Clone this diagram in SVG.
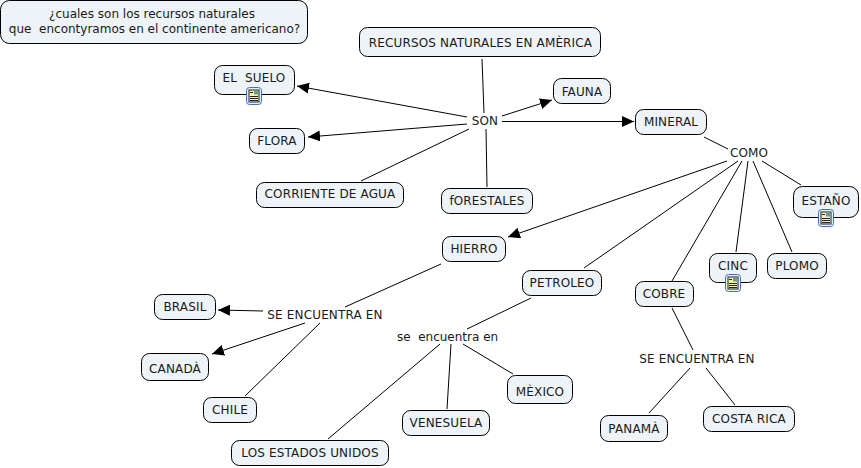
<svg xmlns="http://www.w3.org/2000/svg" width="861" height="468" viewBox="0 0 861 468">
<style>
text{font-family:"DejaVu Sans",Verdana,sans-serif;font-size:12px;fill:#1a1a1a;text-anchor:middle;letter-spacing:.15px}
text.l{letter-spacing:0}
.n{fill:#edf3f6;stroke:#000;stroke-width:1}
.c line{stroke:#000;stroke-width:1;fill:none}
.a{marker-end:url(#ah)}
</style>
<defs>
<marker id="ah" markerUnits="userSpaceOnUse" markerWidth="13" markerHeight="12" refX="12" refY="5.500" orient="auto"><path d="M0 0L12 5.500L0 11Z" fill="#000"/></marker>
<g id="doc"><rect x=".5" y=".5" width="15" height="17" rx="3" fill="#e4eefa" stroke="#3f74bd"/><rect x="3" y="3" width="10" height="12" fill="#f7f2b8" stroke="#222" stroke-width="1"/><rect x="8" y="3.500" width="4.500" height="4" fill="#6a9a8a"/><path d="M4 9.500h8M4 11.500h8M4 13.500h8M4 5.500h3" stroke="#222" stroke-width="1"/></g>
</defs>
<g class="c" id="connectors">
<line x1="482" y1="59" x2="484" y2="113"/>
<line class="a" x1="467" y1="117" x2="297" y2="86"/>
<line class="a" x1="467" y1="124" x2="308" y2="137"/>
<line x1="469" y1="129" x2="361" y2="181"/>
<line x1="486" y1="129" x2="487" y2="187"/>
<line class="a" x1="502" y1="116" x2="552" y2="100"/>
<line class="a" x1="502" y1="121.500" x2="634" y2="121.500"/>
<line x1="704" y1="137" x2="728" y2="149"/>
<line class="a" x1="727" y1="161" x2="508" y2="237"/>
<line x1="738" y1="161" x2="584" y2="268"/>
<line x1="742" y1="161" x2="672" y2="281"/>
<line x1="748" y1="161" x2="736" y2="252"/>
<line x1="753" y1="161" x2="792" y2="252"/>
<line x1="762" y1="161" x2="801" y2="185"/>
<line x1="441" y1="264" x2="345" y2="307"/>
<line class="a" x1="263" y1="311" x2="218" y2="310"/>
<line class="a" x1="305" y1="323" x2="212" y2="354"/>
<line x1="320" y1="323" x2="245" y2="396"/>
<line x1="531" y1="298" x2="467" y2="329"/>
<line x1="440" y1="344" x2="328" y2="439"/>
<line x1="451" y1="344" x2="447" y2="409"/>
<line x1="463" y1="344" x2="513" y2="374"/>
<line x1="672" y1="308" x2="693" y2="350"/>
<line x1="690" y1="368" x2="649" y2="413"/>
<line x1="706" y1="368" x2="735" y2="405"/>
</g>
<g id="n1"><rect class="n" x="0.500" y="0.500" width="307" height="43" rx="9"/><text class="l" x="152" y="18">¿cuales son los recursos naturales</text><text class="l" x="154.500" y="33" xml:space="preserve">que  encontyramos en el continente americano?</text></g>
<g id="n2"><rect class="n" x="359.500" y="27.500" width="241" height="29" rx="8"/><text x="480.500" y="47">RECURSOS NATURALES EN AMÈRICA</text></g>
<g id="n3"><rect class="n" x="214.500" y="65.500" width="80" height="29" rx="8"/><text x="254" y="82" xml:space="preserve">EL  SUELO</text><use href="#doc" x="246" y="87"/></g>
<g id="n4"><rect class="n" x="249.500" y="128.500" width="55" height="25" rx="8"/><text x="277" y="145">FLORA</text></g>
<g id="n5"><rect class="n" x="256.500" y="182.500" width="147" height="25" rx="8"/><text x="330" y="198">CORRIENTE DE AGUA</text></g>
<g id="n6"><rect class="n" x="441.500" y="188.500" width="91" height="25" rx="8"/><text x="487" y="205">fORESTALES</text></g>
<g id="n7"><rect class="n" x="553.500" y="78.500" width="57" height="25" rx="8"/><text x="582" y="96">FAUNA</text></g>
<g id="n8"><rect class="n" x="635.500" y="109.500" width="71" height="25" rx="8"/><text x="671" y="126">MINERAL</text></g>
<g id="n9"><text x="749" y="157">COMO</text></g>
<g id="n10"><text x="485" y="125">SON</text></g>
<g id="n11"><rect class="n" x="793.500" y="186.500" width="65" height="31" rx="9"/><text x="826" y="205">ESTAÑO</text><use href="#doc" x="818" y="209"/></g>
<g id="n12"><rect class="n" x="709.500" y="253.500" width="47" height="29" rx="8"/><text x="733" y="270">CINC</text><use href="#doc" x="725" y="274"/></g>
<g id="n13"><rect class="n" x="767.500" y="253.500" width="59" height="25" rx="8"/><text x="797" y="270">PLOMO</text></g>
<g id="n14"><rect class="n" x="442.500" y="236.500" width="63" height="25" rx="8"/><text x="474" y="253">HIERRO</text></g>
<g id="n15"><rect class="n" x="522.500" y="270.500" width="79" height="25" rx="8"/><text x="562" y="287">PETROLEO</text></g>
<g id="n16"><rect class="n" x="635.500" y="281.500" width="58" height="25" rx="8"/><text x="664" y="298">COBRE</text></g>
<g id="n17"><text x="325" y="319">SE ENCUENTRA EN</text></g>
<g id="n18"><text class="l" x="447.500" y="341" xml:space="preserve">se  encuentra en</text></g>
<g id="n19"><text x="697" y="363">SE ENCUENTRA EN</text></g>
<g id="n20"><rect class="n" x="154.500" y="294.500" width="61" height="25" rx="8"/><text x="185" y="311">BRASIL</text></g>
<g id="n21"><rect class="n" x="141.500" y="353.500" width="67" height="27" rx="8"/><text x="175" y="373">CANADÀ</text></g>
<g id="n22"><rect class="n" x="203.500" y="397.500" width="53" height="25" rx="8"/><text x="230" y="414">CHILE</text></g>
<g id="n23"><rect class="n" x="231.500" y="440.500" width="157" height="25" rx="8"/><text x="310" y="457">LOS ESTADOS UNIDOS</text></g>
<g id="n24"><rect class="n" x="402.500" y="410.500" width="87" height="25" rx="8"/><text x="446" y="427">VENESUELA</text></g>
<g id="n25"><rect class="n" x="507.500" y="375.500" width="65" height="28" rx="8"/><text x="540" y="396">MÈXICO</text></g>
<g id="n26"><rect class="n" x="600.500" y="415.500" width="67" height="26" rx="8"/><text x="634" y="433">PANAMÀ</text></g>
<g id="n27"><rect class="n" x="703.500" y="406.500" width="91" height="25" rx="8"/><text x="749" y="423">COSTA RICA</text></g>
</svg>
